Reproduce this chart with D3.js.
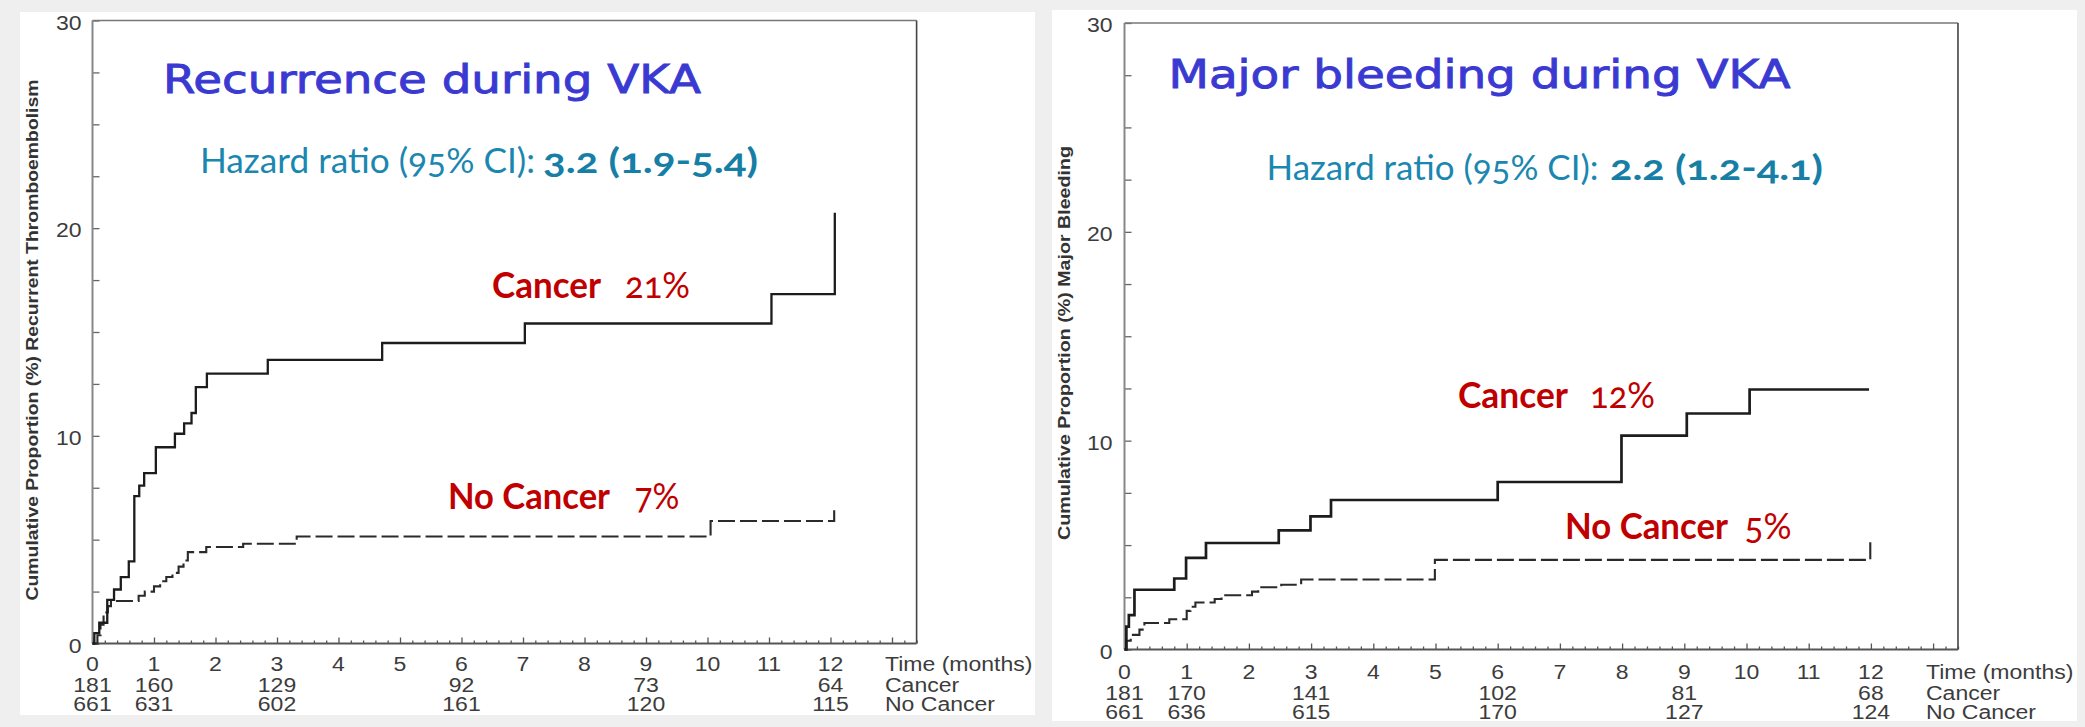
<!DOCTYPE html>
<html><head><meta charset="utf-8">
<script src="https://cdn.jsdelivr.net/npm/d3@7/dist/d3.min.js"></script>
<style>
html,body{margin:0;padding:0;background:#efefef;}
svg{display:block;}
</style></head><body>
<svg id="c" width="2085" height="727"></svg>
<script>
// ---------- data ----------
const monthTicks = [0,1,2,3,4,5,6,7,8,9,10,11,12];
const yTickLabels = [0,10,20,30];
const riskMonths = [0,1,3,6,9,12];
const rowLabels = ["Time (months)","Cancer","No Cancer"];

// Recurrence during VKA
const recCancerTime = [0,0.03,0.11,0.24,0.35,0.46,0.59,0.68,0.76,0.84,1.03,1.34,1.49,1.61,1.68,1.86,2.85,4.71,7.03,11.04,12.07];
const recCancerPct  = [0,0.5,1.0,2.1,2.6,3.2,3.95,7.1,7.6,8.2,9.45,10.1,10.6,11.1,12.35,13.0,13.66,14.47,15.41,16.82,20.74];
const recNoCancerTime = [0,0.08,0.13,0.18,0.25,0.30,0.75,0.85,1.0,1.1,1.2,1.3,1.4,1.48,1.55,1.85,2.45,3.32,10.05,12.06];
const recNoCancerPct  = [0,0.4,0.9,1.5,1.8,2.05,2.3,2.5,2.75,3.0,3.2,3.4,3.7,4.0,4.4,4.65,4.8,5.15,5.9,6.6];
const recRiskCancer   = [181,160,129,92,73,64];
const recRiskNoCancer = [661,631,602,161,120,115];

// Major bleeding during VKA
const bleCancerTime = [0,0.03,0.07,0.16,0.80,0.99,1.31,2.48,2.99,3.32,6.0,7.99,9.04,10.05,11.97];
const bleCancerPct  = [0,1.1,1.65,2.86,3.4,4.39,5.1,5.7,6.37,7.16,8.02,10.24,11.3,12.45,12.45];
const bleNoCancerTime = [0,0.03,0.10,0.24,0.32,0.72,1.0,1.06,1.14,1.45,1.56,2.05,2.15,2.52,2.84,4.99,11.99];
const bleNoCancerPct  = [0,0.42,0.7,0.95,1.27,1.45,1.85,2.05,2.25,2.42,2.6,2.77,2.98,3.1,3.35,4.29,5.17];
const bleRiskCancer   = [181,170,141,102,81,68];
const bleRiskNoCancer = [661,636,615,170,127,124];

// ---------- drawing ----------
const svg = d3.select('#c');
const FONT = '"Liberation Sans", Arial, sans-serif';

function stretch(sel, k){
  sel.each(function(){
    const w = this.getComputedTextLength();
    d3.select(this).attr('textLength', w*k).attr('lengthAdjust','spacingAndGlyphs');
  });
}
function fitText(g, txt, x, y, w, attrs){
  const t = g.append('text').attr('x', x).attr('y', y).text(txt);
  Object.entries(attrs).forEach(([k,v]) => t.style(k, v));
  t.attr('textLength', w).attr('lengthAdjust','spacingAndGlyphs');
  return t;
}

// panel backgrounds
svg.append('rect').attr('x',20).attr('y',12).attr('width',1015).attr('height',703).attr('fill','#fff');
svg.append('rect').attr('x',1052).attr('y',10).attr('width',1025).attr('height',711).attr('fill','#fff');

const XMAX = 13.4;

function drawPanel(cfg){
  const g = svg.append('g');
  const x = d3.scaleLinear().domain([0, XMAX]).range([cfg.left, cfg.left + XMAX*cfg.month]);
  const y = d3.scaleLinear().domain([0, 30]).range([cfg.bottom, cfg.top]);

  // y ticks (inward)
  g.append('g').attr('transform',`translate(${x(0)},0)`).attr('color','#666')
    .call(d3.axisLeft(y).tickValues(d3.range(0, 30.01, 2.5)).tickSize(-7).tickFormat(''))
    .call(s => s.select('.domain').remove())
    .selectAll('line').attr('stroke-width',1.3);
  // x ticks (inward)
  const minor = d3.range(0, 68).filter(i => i % 5 !== 0).map(i => i/5);
  const major = d3.range(0, 14);
  g.append('g').attr('transform',`translate(0,${y(0)})`).attr('color','#555')
    .call(d3.axisBottom(x).tickValues(minor).tickSize(-3).tickFormat(''))
    .call(s => s.select('.domain').remove())
    .selectAll('line').attr('stroke-width',1.3);
  g.append('g').attr('transform',`translate(0,${y(0)})`).attr('color','#555')
    .call(d3.axisBottom(x).tickValues(major).tickSize(-6).tickFormat(''))
    .call(s => s.select('.domain').remove())
    .selectAll('line').attr('stroke-width',1.3);

  // frame
  g.append('line').attr('x1',x(0)).attr('x2',x(XMAX)).attr('y1',y(30)).attr('y2',y(30)).attr('stroke','#777').attr('stroke-width',1.6);
  g.append('line').attr('x1',x(0)).attr('x2',x(0)).attr('y1',y(30)).attr('y2',y(0)).attr('stroke','#888').attr('stroke-width',2);
  g.append('line').attr('x1',x(XMAX)).attr('x2',x(XMAX)).attr('y1',y(30)).attr('y2',y(0)).attr('stroke','#444').attr('stroke-width',1.6);
  g.append('line').attr('x1',x(0)).attr('x2',x(XMAX)).attr('y1',y(0)).attr('y2',y(0)).attr('stroke','#555').attr('stroke-width',1.8);

  // y tick labels
  g.selectAll('text.yl').data(yTickLabels).join('text').attr('class','yl')
    .attr('x', x(0) - cfg.yLabGap).attr('y', d => y(d) + 2)
    .attr('text-anchor','end').attr('dominant-baseline','central')
    .style('font-family',FONT).style('font-size','20px').style('fill','#3c3c3c')
    .text(d => d).call(stretch, 1.15);

  // x tick labels
  g.selectAll('text.xl').data(monthTicks).join('text').attr('class','xl')
    .attr('x', d => x(d)).attr('y', cfg.rowY[0])
    .attr('text-anchor','middle').attr('dominant-baseline','central')
    .style('font-family',FONT).style('font-size','20px').style('fill','#3c3c3c')
    .text(d => d).call(stretch, 1.15);

  // numbers at risk
  [cfg.riskCancer, cfg.riskNoCancer].forEach((arr, r) => {
    g.selectAll('text.r'+r).data(arr).join('text').attr('class','r'+r)
      .attr('x', (d,i) => x(riskMonths[i])).attr('y', cfg.rowY[r+1])
      .attr('text-anchor','middle').attr('dominant-baseline','central')
      .style('font-family',FONT).style('font-size','20px').style('fill','#3c3c3c')
      .text(d => d).call(stretch, 1.15);
  });
  g.selectAll('text.rl').data(rowLabels).join('text').attr('class','rl')
    .attr('x', cfg.rowLabelX).attr('y', (d,i) => cfg.rowY[i])
    .attr('dominant-baseline','central')
    .style('font-family',FONT).style('font-size','20px').style('fill','#3c3c3c')
    .text(d => d).call(stretch, 1.15);

  // y axis title
  g.append('text').attr('transform',`translate(${cfg.yTitleX},${cfg.yTitleY}) rotate(-90)`)
    .attr('text-anchor','middle').attr('dominant-baseline','central')
    .style('font-family',FONT).style('font-size','17px').style('font-weight','bold').style('fill','#333')
    .attr('textLength', cfg.yTitleLen).attr('lengthAdjust','spacingAndGlyphs')
    .text(cfg.yTitle);

  // curves
  const line = d3.line().x(d => x(d[0])).y(d => y(d[1])).curve(d3.curveStepAfter);
  g.append('path').datum(cfg.noCancerT.map((t,i) => [t, cfg.noCancerV[i]]))
    .attr('d', line).attr('fill','none').attr('stroke','#2a2a2a').attr('stroke-width',2.1)
    .attr('stroke-dasharray','17,5');
  g.append('path').datum(cfg.cancerT.map((t,i) => [t, cfg.cancerV[i]]))
    .attr('d', line).attr('fill','none').attr('stroke','#1c1c1c').attr('stroke-width',cfg.solidW);
  return g;
}

drawPanel({
  left:92.5, month:61.5, bottom:643.5, top:20.5, yLabGap:11,
  rowY:[664, 685, 704], rowLabelX:885,
  riskCancer:recRiskCancer, riskNoCancer:recRiskNoCancer,
  yTitle:'Cumulative Proportion (%) Recurrent Thromboembolism', yTitleX:32.5, yTitleY:340, yTitleLen:521,
  cancerT:recCancerTime, cancerV:recCancerPct, noCancerT:recNoCancerTime, noCancerV:recNoCancerPct, solidW:2.3
});
drawPanel({
  left:1124.5, month:62.2, bottom:649.5, top:23, yLabGap:12,
  rowY:[671.5, 692.5, 712], rowLabelX:1926,
  riskCancer:bleRiskCancer, riskNoCancer:bleRiskNoCancer,
  yTitle:'Cumulative Proportion (%) Major Bleeding', yTitleX:1064, yTitleY:343, yTitleLen:394,
  cancerT:bleCancerTime, cancerV:bleCancerPct, noCancerT:bleNoCancerTime, noCancerV:bleNoCancerPct, solidW:2.7
});

// titles
const titleStyle = {'font-family':'"DejaVu Sans", Verdana, sans-serif','font-size':'39px','fill':'#3a3ad2','stroke':'#3a3ad2','stroke-width':'0.9px'};
fitText(svg, 'Recurrence during VKA', 163, 92.5, 538, titleStyle);
fitText(svg, 'Major bleeding during VKA', 1168.5, 88, 622, titleStyle);

const hzReg = {'font-family':'Lato, "Open Sans", sans-serif','font-size':'35px','fill':'#1b87b1','font-variant-numeric':'oldstyle-nums'};
const hzBold = {'font-family':'Lato, "Open Sans", sans-serif','font-size':'35px','fill':'#177fa6','font-weight':'bold','font-variant-numeric':'oldstyle-nums'};
fitText(svg, 'Hazard ratio (95% CI):', 200, 172.5, 335, hzReg);
fitText(svg, '3.2 (1.9-5.4)', 543, 172.5, 215, hzBold);
fitText(svg, 'Hazard ratio (95% CI):', 1266.5, 180, 332, hzReg);
fitText(svg, '2.2 (1.2-4.1)', 1610, 180, 213, hzBold);

const redB = {'font-family':'Lato, "Open Sans", sans-serif','font-size':'36px','fill':'#c00000','font-weight':'bold'};
const redR = {'font-family':'Lato, "Open Sans", sans-serif','font-size':'36px','fill':'#c00000','font-variant-numeric':'oldstyle-nums'};
fitText(svg, 'Cancer', 492, 297.5, 109, redB);
fitText(svg, '21%', 625, 297.5, 65, redR);
fitText(svg, 'No Cancer', 448, 509, 162, redB);
fitText(svg, '7%', 634.5, 509, 45, redR);
fitText(svg, 'Cancer', 1458, 408, 110, redB);
fitText(svg, '12%', 1590, 408, 65, redR);
fitText(svg, 'No Cancer', 1565, 538.5, 163, redB);
fitText(svg, '5%', 1744.5, 538.5, 47, redR);
</script>
</body></html>
